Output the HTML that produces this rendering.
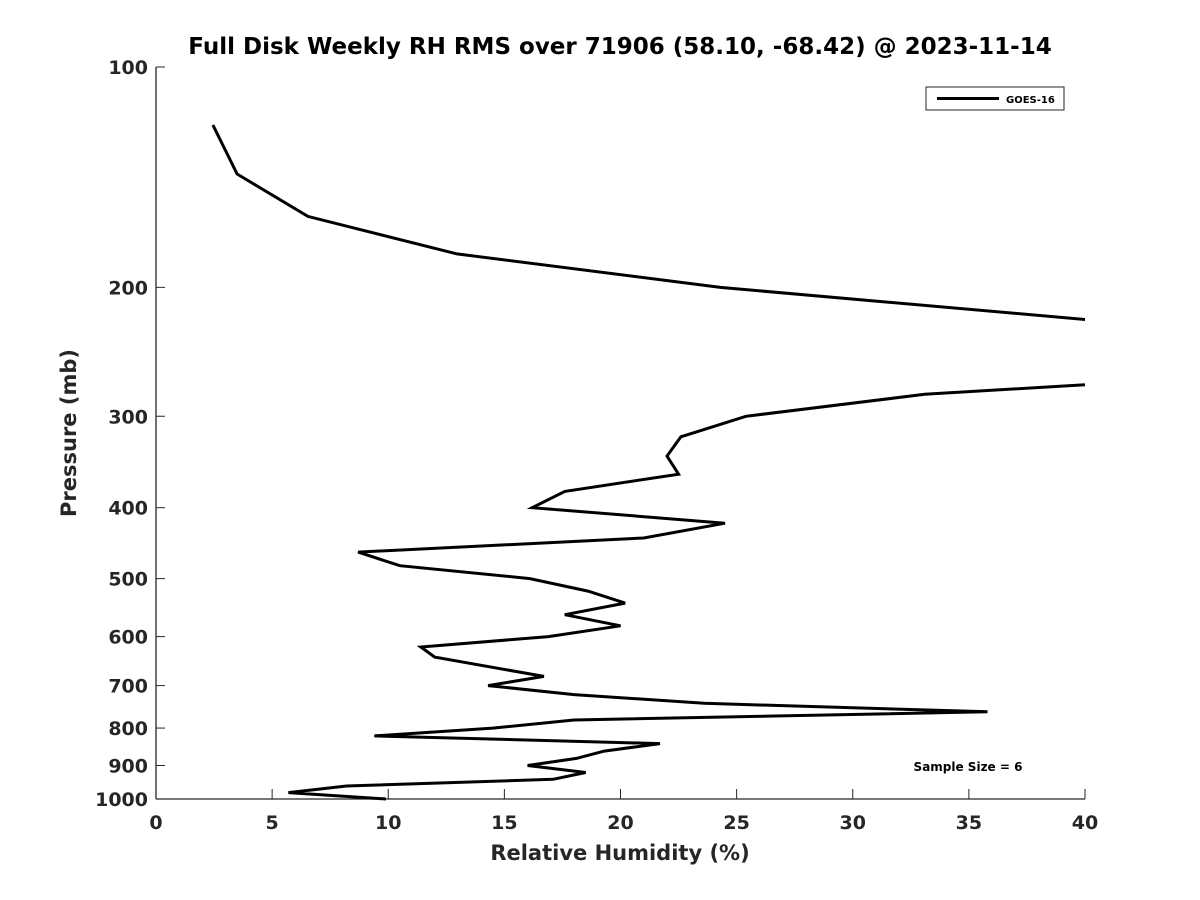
<!DOCTYPE html>
<html><head><meta charset="utf-8"><style>
html,body{margin:0;padding:0;background:#fff;}
svg{display:block;font-family:"DejaVu Sans","Liberation Sans",sans-serif;}
</style></head><body>
<svg id="chart" width="1200" height="900" viewBox="0 0 1200 900">
<rect width="1200" height="900" fill="#fff"/>
<defs><clipPath id="plotclip"><rect x="156" y="60" width="929" height="745"/></clipPath></defs>
<text x="620" y="54" text-anchor="middle" font-size="23" font-weight="bold" fill="#000">Full Disk Weekly RH RMS over 71906 (58.10, -68.42) @ 2023-11-14</text>
<g id="axes"></g>
<g id="series" clip-path="url(#plotclip)"></g>
<text x="620" y="860" text-anchor="middle" font-size="21" font-weight="bold" fill="#262626">Relative Humidity (%)</text>
<text transform="translate(76,433) rotate(-90)" text-anchor="middle" font-size="21" font-weight="bold" fill="#262626">Pressure (mb)</text>
<g>
<rect x="926" y="87" width="138" height="23" fill="#fff" stroke="#262626" stroke-width="1"/>
<line x1="937" y1="98.5" x2="999" y2="98.5" stroke="#000" stroke-width="3"/>
<text x="1006" y="103" font-size="10" font-weight="bold" fill="#000">GOES-16</text>
</g>
<text x="968" y="771" text-anchor="middle" font-size="12" font-weight="bold" fill="#000">Sample Size = 6</text>
</svg>
<script>
const xTicks=[0,5,10,15,20,25,30,35,40];
const yTicks=[100,200,300,400,500,600,700,800,900,1000];
const pressure=[120,140,160,180,200,250,280,300,320,340,360,380,400,420,440,460,480,500,520,540,560,580,600,620,640,680,700,720,740,760,780,800,820,840,860,880,900,920,940,960,980,1000];
const rh=[2.45,3.49,6.54,12.96,24.3,59,33.1,25.4,22.6,22.0,22.5,17.6,16.2,24.5,21.0,8.7,10.5,16.1,18.6,20.2,17.6,20.0,16.9,11.4,12.0,16.7,14.3,18.0,23.6,35.8,18.0,14.5,9.4,21.7,19.3,18.1,16.0,18.5,17.1,8.2,5.7,9.9];
const X0=156,X1=1085,Y0=67,Y1=799;
function xs(v){return X0+(v-0)/(40-0)*(X1-X0);}
function ys(p){return Y0+(Math.log10(p)-2)/(1)*(Y1-Y0);}
const NS="http://www.w3.org/2000/svg";
const axes=document.getElementById('axes');
function mk(tag,attrs,parent){const e=document.createElementNS(NS,tag);for(const k in attrs)e.setAttribute(k,attrs[k]);parent.appendChild(e);return e;}
let l=mk('line',{x1:X0,y1:Y0,x2:X0,y2:Y1,stroke:'#262626','stroke-width':1.3},axes);


l=mk('line',{x1:X0,y1:Y1,x2:X1,y2:Y1,stroke:'#262626','stroke-width':1.3},axes);


xTicks.forEach(v=>{
  const x=xs(v);
  const t=mk('line',{x1:x,y1:Y1,x2:x,y2:Y1-10,stroke:'#262626','stroke-width':1},axes);
  
  
  const tx=mk('text',{x:x,y:Y1+30,'text-anchor':'middle','font-size':19,'font-weight':'bold',fill:'#262626'},axes);
  tx.textContent=v;
  
  
});
yTicks.forEach(p=>{
  const y=ys(p);
  const t=mk('line',{x1:X0,y1:y,x2:X0+9,y2:y,stroke:'#262626','stroke-width':1},axes);
  
  
  const tx=mk('text',{x:X0-8,y:y+7,'text-anchor':'end','font-size':19,'font-weight':'bold',fill:'#262626'},axes);
  tx.textContent=p;
  
  
});
const pts=pressure.map((p,i)=>xs(rh[i]).toFixed(1)+','+ys(p).toFixed(1)).join(' ');
const pl=mk('polyline',{points:pts,fill:'none',stroke:'#000','stroke-width':3,'stroke-linejoin':'miter'},document.getElementById('series'));


</script>
</body></html>
